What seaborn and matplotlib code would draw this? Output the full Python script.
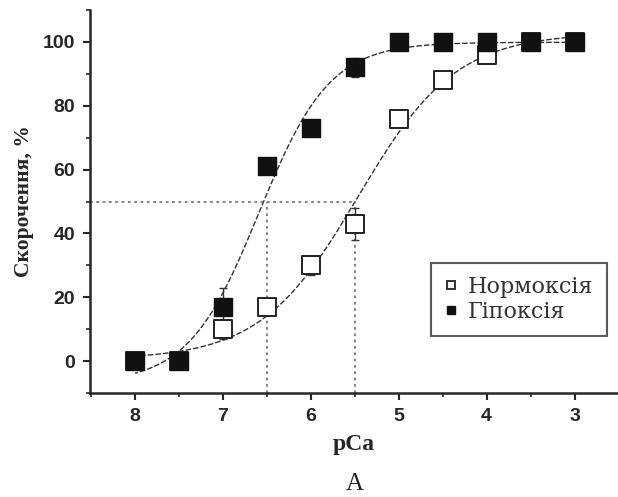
import numpy as np
import pandas as pd
import matplotlib
matplotlib.use("Agg")
import matplotlib.pyplot as plt
from matplotlib.lines import Line2D
import seaborn as sns

# data
pca = [8, 7.5, 7, 6.5, 6, 5.5, 5, 4.5, 4, 3.5, 3]
normoxia = [0, 0, 10, 17, 30, 43, 76, 88, 96, 100, 100]
normoxia_err = [0, 0, 3, 1, 3, 5, 2, 1, 1, 0, 0]
hypoxia = [0, 0, 17, 61, 73, 92, 100, 100, 100, 100, 100]
hypoxia_err = [0, 0, 6, 2, 2, 3, 0, 0, 0, 0, 0]
half_points = [6.5, 5.5]


def hill(x, x50, n, bottom, top):
    return bottom + (top - bottom) / (1 + 10 ** (n * (np.asarray(x) - x50)))


def fit_hill(x, y):
    # grid search on x50 / slope, least squares for bottom / top
    x = np.asarray(x, float)
    y = np.asarray(y, float)
    best = None
    for x50 in np.arange(4.5, 7.5, 0.01):
        for n in np.arange(0.3, 3.0, 0.02):
            s = 1 / (1 + 10 ** (n * (x - x50)))
            A = np.column_stack([1 - s, s])
            coef, *_ = np.linalg.lstsq(A, y, rcond=None)
            err = np.sum((A @ coef - y) ** 2)
            if best is None or err < best[0]:
                best = (err, x50, n, coef[0], coef[1])
    return best[1:]


sns.set_style("ticks")
plt.rcParams["font.family"] = ["Liberation Sans", "DejaVu Sans"]

fig = plt.figure(figsize=(6.18, 4.97), dpi=100)
ax = fig.add_axes([0.146, 0.209, 0.852, 0.771])

xs = np.linspace(8, 3, 300)
for vals in [normoxia, hypoxia]:
    p = fit_hill(pca, vals)
    sns.lineplot(x=xs, y=hill(xs, *p), ax=ax, color="#333333", lw=1.0, ls=(0, (4, 1.5)))

# guide lines at 50 %
ax.plot([8.51, half_points[1]], [50, 50], color="#777777", lw=1.3, ls=(0, (1.5, 2)))
for h in half_points:
    ax.plot([h, h], [-10, 50], color="#777777", lw=1.3, ls=(0, (1.5, 2)))

ax.errorbar(pca, normoxia, yerr=normoxia_err, fmt="none", ecolor="#333333",
            elinewidth=1, capsize=3)
ax.errorbar(pca, hypoxia, yerr=hypoxia_err, fmt="none", ecolor="#333333",
            elinewidth=1, capsize=3)

df = pd.DataFrame({"pCa": pca + pca,
                   "val": normoxia + hypoxia,
                   "grp": ["Нормоксія"] * len(pca) + ["Гіпоксія"] * len(pca)})
sns.scatterplot(data=df[df.grp == "Нормоксія"], x="pCa", y="val", ax=ax, marker="s",
                s=170, color="white", edgecolor="#222222", linewidth=1.4, zorder=5,
                legend=False)
sns.scatterplot(data=df[df.grp == "Гіпоксія"], x="pCa", y="val", ax=ax, marker="s",
                s=180, color="#111111", edgecolor="#111111", linewidth=1, zorder=6,
                legend=False)

ax.set_xlim(8.51, 2.52)
ax.set_ylim(-10, 110)
ax.set_xticks([8, 7, 6, 5, 4, 3])
ax.set_xticks(np.arange(8.5, 2.5, -0.5), minor=True)
ax.set_yticks([0, 20, 40, 60, 80, 100])
ax.set_yticks(np.arange(-10, 111, 10), minor=True)
ax.tick_params(axis="both", which="major", length=5, width=1.5, labelsize=14, pad=6)
ax.tick_params(axis="both", which="minor", length=3, width=1.2)
for lab in ax.get_xticklabels() + ax.get_yticklabels():
    lab.set_fontweight("bold")
for side in ["left", "bottom"]:
    ax.spines[side].set_linewidth(1.8)
sns.despine(ax=ax)

ax.set_xlabel("pCa", family="Liberation Serif", fontsize=17, fontweight="bold", labelpad=6)
ax.set_ylabel("Скорочення, %", family="Liberation Serif", fontsize=15.5, fontweight="bold",
              labelpad=6)

handles = [Line2D([], [], marker="s", ls="none", mfc="white", mec="#222222", ms=6, mew=1.3),
           Line2D([], [], marker="s", ls="none", mfc="#111111", mec="#111111", ms=6)]
leg = ax.legend(handles, ["Нормоксія", "Гіпоксія"], loc="upper left",
                bbox_to_anchor=(0.648, 0.34), borderaxespad=0, frameon=True, fancybox=False,
                prop={"family": "DejaVu Serif", "size": 16}, handlelength=0.6,
                handletextpad=0.45, borderpad=0.6, labelspacing=0.12)
leg.get_frame().set_edgecolor("#333333")
leg.get_frame().set_linewidth(1.5)
for t in leg.get_texts():
    t.set_color("#333333")

fig.text(0.574, 0.005, "А", family="Liberation Serif", fontsize=18, ha="center", va="bottom")

fig.savefig("out.png", dpi=100)
